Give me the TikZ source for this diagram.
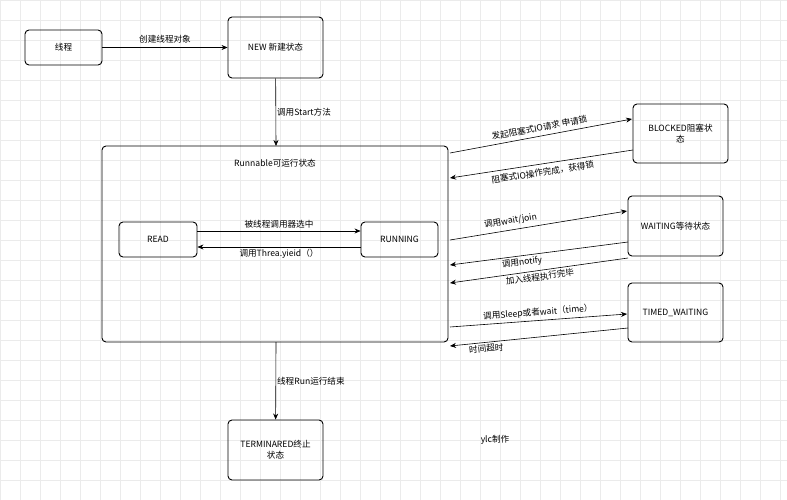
\documentclass[tikz,border=0pt]{standalone}
\usepackage{fontspec}
\setmainfont{Noto Sans CJK SC}
\usetikzlibrary{arrows.meta}
\begin{document}
\begin{tikzpicture}[x=1pt,y=-1pt,
 box/.style={draw,rounded corners=4pt,line width=0.9pt,align=center,font=\fontsize{8.6}{11}\selectfont,inner sep=1pt},
 lab/.style={font=\fontsize{8.6}{10}\selectfont,inner sep=1pt},
 arr/.style={-{Stealth[length=6pt,width=5pt]},line width=0.6pt}]
\fill[white] (0,0) rectangle (787,500);
\useasboundingbox (0,0) rectangle (787,500);
\foreach \i in {0,20,...,780} \draw[black!8,line width=0.4pt] (\i,0) -- (\i,500);
\foreach \j in {0,20,...,500} \draw[black!8,line width=0.4pt] (0,\j) -- (787,\j);
\node[box,minimum width=77,minimum height=35] (th) at (63.5,47.5) {线程};
\node[box,minimum width=95,minimum height=61] (new) at (275.5,47.5) {NEW 新建状态};
\draw[line width=0.9pt,rounded corners=4pt] (102,146) rectangle (448,342);
\coordinate (rt) at (276,146); \coordinate (rb) at (276,342);
\node[lab] (rl) at (275,163) {Runnable可运行状态};
\node[box,minimum width=78,minimum height=35] (read) at (158,239.5) {READ};
\node[box,minimum width=77,minimum height=35] (run) at (399.5,239.5) {RUNNING};
\node[box,minimum width=95,minimum height=59] (blk) at (680.5,133.5) {BLOCKED阻塞状\\态};
\node[box,minimum width=95,minimum height=60] (wait) at (675.5,226) {WAITING等待状态};
\node[box,minimum width=95,minimum height=59] (tw) at (675.5,312.5) {TIMED\_WAITING};
\node[box,minimum width=95,minimum height=60] (term) at (275.5,450) {TERMINARED终止\\状态};
\node[lab] (ylc) at (495,440) {ylc制作};
\draw[arr] (th) -- (new) node[lab,midway,above=3pt] {创建线程对象};
\draw[arr] (new) -- (rt) node[lab,midway,right=0pt] {调用Start方法};
\draw[arr] (rb) -- (term) node[lab,midway,right=0pt] {线程Run运行结束};
\draw[arr] (read.east |- 0,231) -- (run.west |- 0,231) node[lab,midway,above=1pt] {被线程调用器选中};
\draw[arr] (run.west |- 0,247) -- (read.east |- 0,247) node[lab,midway,below=1pt] {调用Threa.yieid（）};
\coordinate (a1) at (450,153); \coordinate (b1) at (632,119);
\draw[arr] (a1) -- (b1) node[lab,midway,above=3pt,sloped] {发起阻塞式IO请求 申请锁};
\coordinate (a2) at (633,150); \coordinate (b2) at (450,178);
\draw[arr] (a2) -- (b2) node[lab,midway,below=3pt,sloped] {阻塞式IO操作完成，获得锁};
\coordinate (a3) at (450,240); \coordinate (b3) at (627,211);
\draw[arr] (a3) -- (b3) node[lab,pos=0.35,above=3pt,sloped] {调用wait/join};
\coordinate (a4) at (628,242); \coordinate (b4) at (450,265);
\draw[arr] (a4) -- (b4) node[lab,pos=0.6,below=1pt,sloped] {调用notify};
\coordinate (a5) at (628,258); \coordinate (b5) at (450,283);
\draw[arr] (a5) -- (b5) node[lab,pos=0.5,below=1pt,sloped] {加入线程执行完毕};
\coordinate (a6) at (450,327); \coordinate (b6) at (627,314);
\draw[arr] (a6) -- (b6) node[lab,midway,above=2pt,sloped] {调用Sleep或者wait（time）};
\coordinate (a7) at (628,328); \coordinate (b7) at (450,346);
\draw[arr] (a7) -- (b7) node[lab,pos=0.8,below=1pt,sloped] {时间超时};
\end{tikzpicture}
\end{document}
